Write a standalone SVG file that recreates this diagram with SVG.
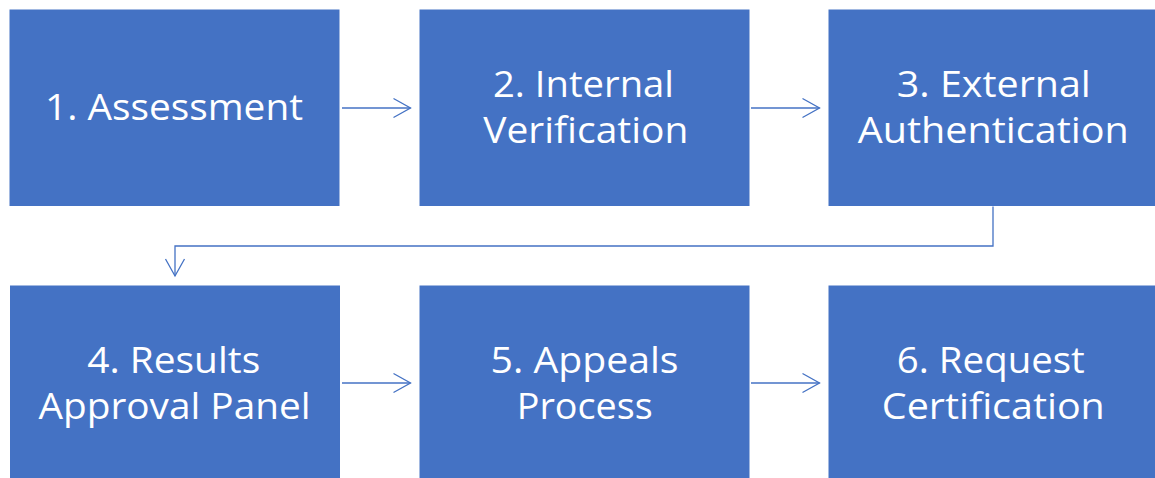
<svg xmlns="http://www.w3.org/2000/svg" width="1155" height="478" viewBox="0 0 1155 478">
<style>
.box{fill:#4472C4;}
.lbl{font-family:"Open Sans","Liberation Sans",sans-serif;font-size:36.5px;fill:#FFFFFF;text-anchor:middle;}
.conn{fill:none;stroke:#4472C4;stroke-width:1.3;marker-end:url(#arr);}
</style>
<defs>
<marker id="arr" markerUnits="userSpaceOnUse" viewBox="-19 -11 21 22" markerWidth="21" markerHeight="22" refX="0" refY="0" orient="auto">
<path d="M-17,-9.5 L0,0 L-17,9.5" fill="none" stroke="#4472C4" stroke-width="1.3"/>
</marker>
</defs>
<rect width="1155" height="478" fill="#FFFFFF"/>
<g id="connectors">
<path class="conn" d="M342,108 H410.5"/>
<path class="conn" d="M751,108 H819.5"/>
<path class="conn" d="M993,206.5 V246 H175 V276"/>
<path class="conn" d="M342,383 H410.5"/>
<path class="conn" d="M751,383 H819.5"/>
</g>
<g id="node1">
<rect class="box" x="9.5" y="9.5" width="330" height="196.5"/>
<text class="lbl" x="174" y="119.5" textLength="258" lengthAdjust="spacingAndGlyphs">1. Assessment</text>
</g>
<g id="node2">
<rect class="box" x="419.5" y="9.5" width="330" height="196.5"/>
<text class="lbl" x="583.5" y="96.5" textLength="181" lengthAdjust="spacingAndGlyphs">2. Internal</text>
<text class="lbl" x="585.8" y="143" textLength="205" lengthAdjust="spacingAndGlyphs">Verification</text>
</g>
<g id="node3">
<rect class="box" x="828.5" y="9.5" width="330" height="196.5"/>
<text class="lbl" x="993.8" y="96.5" textLength="194" lengthAdjust="spacingAndGlyphs">3. External</text>
<text class="lbl" x="993.3" y="143" textLength="271" lengthAdjust="spacingAndGlyphs">Authentication</text>
</g>
<g id="node4">
<rect class="box" x="10" y="285.5" width="330" height="196.5"/>
<text class="lbl" x="173.7" y="373" textLength="173" lengthAdjust="spacingAndGlyphs">4. Results</text>
<text class="lbl" x="174.5" y="419" textLength="272" lengthAdjust="spacingAndGlyphs">Approval Panel</text>
</g>
<g id="node5">
<rect class="box" x="419.5" y="285.5" width="330" height="196.5"/>
<text class="lbl" x="584.5" y="373" textLength="188" lengthAdjust="spacingAndGlyphs">5. Appeals</text>
<text class="lbl" x="584.7" y="419" textLength="136" lengthAdjust="spacingAndGlyphs">Process</text>
</g>
<g id="node6">
<rect class="box" x="828.5" y="285.5" width="330" height="196.5"/>
<text class="lbl" x="990.8" y="373" textLength="188" lengthAdjust="spacingAndGlyphs">6. Request</text>
<text class="lbl" x="993.3" y="419" textLength="223" lengthAdjust="spacingAndGlyphs">Certification</text>
</g>
</svg>
